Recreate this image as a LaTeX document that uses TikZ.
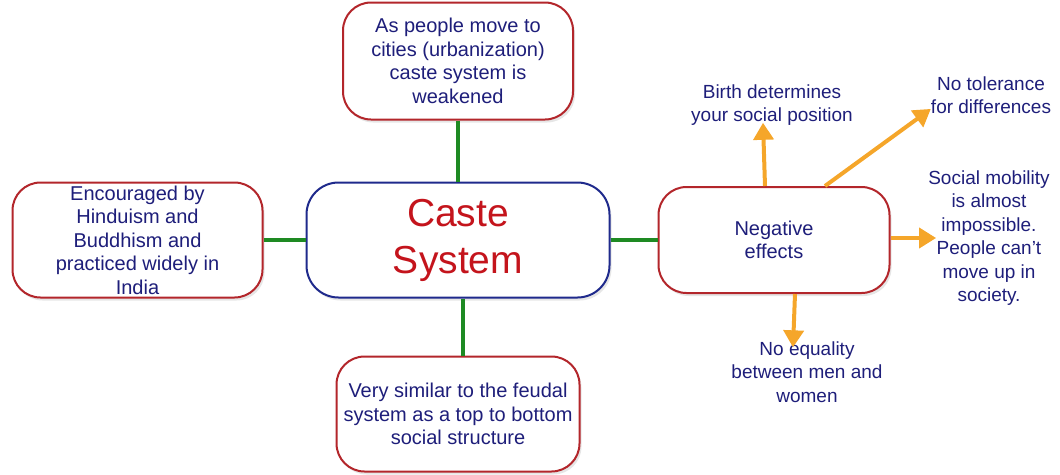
\documentclass[tikz,border=0pt]{standalone}
\usepackage{fontspec}
\setmainfont{Liberation Sans}
\usetikzlibrary{positioning,arrows.meta,shadows}

\definecolor{boxred}{HTML}{B3262B}
\definecolor{coreblue}{HTML}{1F2A8C}
\definecolor{inkblue}{HTML}{1E1E7A}
\definecolor{titlered}{HTML}{C4141C}
\definecolor{linkgreen}{HTML}{1E8A23}
\definecolor{effectorange}{HTML}{F5A62A}

\begin{document}
\begin{tikzpicture}[x=1pt, y=-1pt,
		box/.style={draw, line width=2pt, rounded corners=28pt, fill=white, align=center, inner sep=0pt,
			text=inkblue, font=\fontsize{20}{23.5}\selectfont,
			drop shadow={opacity=0.2, shadow xshift=2pt, shadow yshift=-3pt}},
		core node/.style={box, draw=coreblue, text=titlered, font=\fontsize{39}{47}\selectfont,
			minimum width=303pt, minimum height=115pt, rounded corners=32pt},
		idea node/.style={box, draw=boxred},
		effect text/.style={align=center, inner sep=0pt, text=inkblue, font=\fontsize{19}{23.5}\selectfont},
		line shade/.style={preaction={color=black, opacity=0.15, transform canvas={xshift=3pt, yshift=-3pt}}},
		link/.style={line shade, draw=linkgreen, line width=4pt},
		effect/.style={line shade, color=effectorange, line width=4pt,
			-{Triangle[length=17pt, width=20pt]}}]

		\useasboundingbox (0,0) rectangle (1060,474);

		\node[core node] (caste) at (458,240) {Caste\\System};
		\node[idea node, minimum width=230pt, minimum height=117pt] (urban) [above=61pt of caste]
			{As people move to\\cities (urbanization)\\caste system is\\weakened};
		\node[idea node, minimum width=250pt, minimum height=115pt] (faith) [left=42pt of caste]
			{Encouraged by\\Hinduism and\\Buddhism and\\practiced widely in\\India};
		\node[idea node, minimum width=243pt, minimum height=115pt] (feudal) [below=57pt of caste]
			{Very similar to the feudal\\system as a top to bottom\\social structure};
		\node[idea node, minimum width=231pt, minimum height=106pt] (neg) [right=47pt of caste]
			{Negative\\effects};

		\node[effect text] (birth) at (772,105) {Birth determines\\your social position};
		\node[effect text] (tolerance) at (991,95) {No tolerance\\for differences};
		\node[effect text] (mobility) at (989,238) {Social mobility\\is almost\\impossible.\\People can't\\move up in\\society.};
		\node[effect text] (equality) at (807,372) {No equality\\between men and\\women};

		\path[link]
		(urban) edge (caste)
		(faith) edge (caste)
		([xshift=5pt]caste.south) edge ([xshift=5pt]feudal.north)
		(caste) edge (neg);

		\draw[effect] ([xshift=-9pt]neg.north) -- ([xshift=-9pt, yshift=3pt]birth.south);
		\draw[effect] ([xshift=51pt]neg.north) -- ([yshift=5pt]tolerance.south west);
		\draw[effect] ([yshift=2pt]neg.east) -- ([xshift=8pt]mobility.west);
		\draw[effect] ([xshift=21pt]neg.south) -- ([xshift=-14pt, yshift=-6pt]equality.north);
		\end{tikzpicture}
\end{document}
